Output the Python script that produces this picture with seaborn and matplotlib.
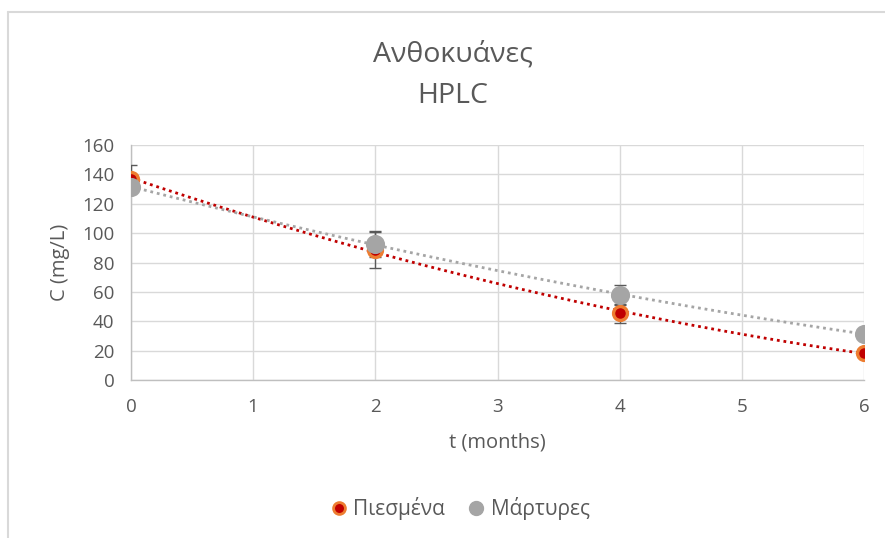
import numpy as np
import pandas as pd
import matplotlib
matplotlib.use("Agg")
import matplotlib.pyplot as plt
from matplotlib.lines import Line2D
import seaborn as sns

# Measurements (mg/L) over storage time
months = [0, 2, 4, 6]
pressed = [137.0, 88.5, 45.5, 18.5]
pressed_err = [9.5, 12.0, 6.5, 0.0]
control = [131.5, 92.5, 58.0, 31.5]
control_err = [0.0, 8.7, 6.8, 0.0]

series_names = ["Πιεσμένα", "Μάρτυρες"]
title_lines = ["Ανθοκυάνες", "HPLC"]
x_ticks = [0, 1, 2, 3, 4, 5, 6]
y_ticks = [0, 20, 40, 60, 80, 100, 120, 140, 160]

RED = "#c00000"
ORANGE = "#ed7d31"
GREY = "#a5a5a5"
TEXT = "#595959"
GRID = "#d9d9d9"

sns.set_theme(style="white")
plt.rcParams["font.family"] = ["Open Sans", "DejaVu Sans"]

fig = plt.figure(figsize=(8.85, 5.38), dpi=100)
ax = fig.add_axes([131 / 885, 1 - 380 / 538, (864 - 131) / 885, (380 - 145) / 538])

df = pd.DataFrame({
    "t": months * 2,
    "C": pressed + control,
    "err": pressed_err + control_err,
    "series": [series_names[0]] * 4 + [series_names[1]] * 4,
})

# Second-order polynomial trend lines fitted to each series
tt = np.linspace(0, 6, 200)
for vals, col in [(pressed, RED), (control, GREY)]:
    coef = np.polyfit(months, vals, 2)
    sns.lineplot(x=tt, y=np.polyval(coef, tt), ax=ax, color=col,
                 linestyle=(0, (1, 1.4)), linewidth=2.0, zorder=3)

# Error bars
for vals, errs in [(pressed, pressed_err), (control, control_err)]:
    ax.errorbar(months, vals, yerr=errs, fmt="none", ecolor="#595959",
                elinewidth=1.0, capsize=4.3, capthick=1.0, zorder=4)

# Markers
sub = df[df.series == series_names[0]]
sns.scatterplot(data=sub, x="t", y="C", ax=ax, color=RED, s=100,
                edgecolor=ORANGE, linewidth=2.4, zorder=5, legend=False)
sub = df[df.series == series_names[1]]
sns.scatterplot(data=sub, x="t", y="C", ax=ax, color=GREY, s=190,
                edgecolor=GREY, linewidth=0, zorder=6, legend=False)

ax.set_xlim(0, 6)
ax.set_ylim(0, 160)
ax.set_xticks(x_ticks)
ax.set_yticks(y_ticks)
ax.grid(True, color=GRID, linewidth=1.0)
ax.set_axisbelow(True)
for side in ["top", "right"]:
    ax.spines[side].set_visible(False)
for side in ["left", "bottom"]:
    ax.spines[side].set_color("#bfbfbf")
    ax.spines[side].set_linewidth(1.0)
ax.tick_params(axis="both", length=0, labelsize=13.5, labelcolor=TEXT)
ax.tick_params(axis="x", pad=13)
ax.tick_params(axis="y", pad=12)
ax.set_xlabel("t (months)", fontsize=14.5, color=TEXT, labelpad=12)
ax.set_ylabel("C (mg/L)", fontsize=14.5, color=TEXT, labelpad=9)

fig.text(453 / 885, 1 - 55 / 538, title_lines[0], ha="center", va="center",
         fontsize=20.5, color=TEXT)
fig.text(453 / 885, 1 - 96 / 538, title_lines[1], ha="center", va="center",
         fontsize=20.5, color=TEXT)

handles = [
    Line2D([], [], marker="o", linestyle="none", markerfacecolor=RED,
           markeredgecolor=ORANGE, markeredgewidth=2.0, markersize=8.5),
    Line2D([], [], marker="o", linestyle="none", markerfacecolor=GREY,
           markeredgecolor=GREY, markersize=10),
]
leg = fig.legend(handles, series_names, loc="center", ncol=2,
                 bbox_to_anchor=(460 / 885, 1 - 509 / 538), frameon=False,
                 fontsize=15, handlelength=0.8, handletextpad=0.3,
                 columnspacing=1.1)
for t in leg.get_texts():
    t.set_color(TEXT)

# Chart-area border
fig.add_artist(Line2D([8 / 885, 8 / 885], [0, 1 - 12 / 538],
                      transform=fig.transFigure, color="#d9d9d9", linewidth=1.5))
fig.add_artist(Line2D([8 / 885, 1], [1 - 12 / 538, 1 - 12 / 538],
                      transform=fig.transFigure, color="#d9d9d9", linewidth=1.5))

fig.savefig("out.png", dpi=100)
